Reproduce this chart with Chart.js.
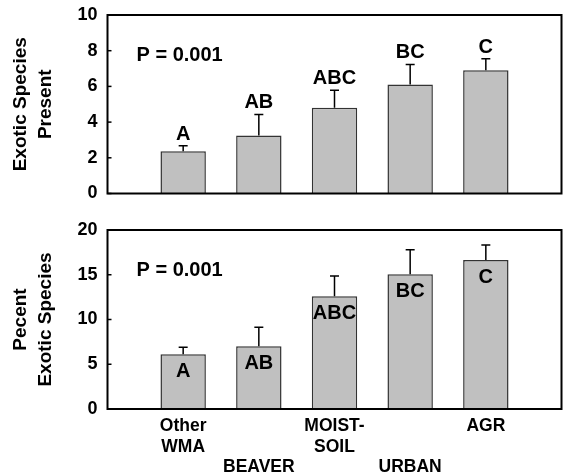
<!DOCTYPE html>
<html>
<head>
<meta charset="utf-8">
<script src="https://cdn.jsdelivr.net/npm/chart.js@4"></script>
<style>
  html, body { margin: 0; padding: 0; background: #fff; }
  body { width: 563px; height: 474px; position: relative; overflow: hidden; }
  canvas { position: absolute; left: 0; }
  #top { top: 0; }
  #bottom { top: 210px; }
</style>
</head>
<body>
<canvas id="top" width="563" height="210"></canvas>
<canvas id="bottom" width="563" height="264"></canvas>
<script>
// ---- data ----
const categoryLines = [['Other', 'WMA'], ['', '', 'BEAVER'], ['MOIST-', 'SOIL'], ['', '', 'URBAN'], ['AGR']];
const xPositions = [1, 2, 3, 4, 5];
const exoticPresent = [2.36, 3.25, 4.80, 6.11, 6.90];
const exoticPresentErr = [0.31, 1.18, 0.98, 1.12, 0.65];
const percentExotic = [6.11, 7.00, 12.59, 15.05, 16.65];
const percentExoticErr = [0.78, 2.13, 2.27, 2.75, 1.67];
const letters = ['A', 'AB', 'ABC', 'BC', 'C'];
const topTicks = [0, 2, 4, 6, 8, 10];
const bottomTicks = [0, 5, 10, 15, 20];
const pText = 'P = 0.001';

Chart.defaults.font.family = '"Liberation Sans", Arial, sans-serif';
Chart.defaults.font.weight = 'bold';
Chart.defaults.color = '#000';

function decorPlugin(values, errs, lettersPos) {
  return {
    id: 'decor',
    afterDatasetsDraw(chart) {
      const ctx = chart.ctx;
      const xs = chart.scales.x, ys = chart.scales.y;
      const ca = chart.chartArea;
      ctx.save();
      // error bars (upper only)
      ctx.strokeStyle = '#000';
      ctx.lineWidth = 1.5;
      values.forEach((v, i) => {
        const x = xs.getPixelForValue(xPositions[i]);
        const y0 = ys.getPixelForValue(v);
        const y1 = ys.getPixelForValue(v + errs[i]);
        ctx.beginPath();
        ctx.moveTo(x, y0);
        ctx.lineTo(x, y1);
        ctx.moveTo(x - 4.5, y1);
        ctx.lineTo(x + 4.5, y1);
        ctx.stroke();
      });
      // letters
      ctx.fillStyle = '#000';
      ctx.font = 'bold 20px "Liberation Sans", Arial, sans-serif';
      ctx.textAlign = 'center';
      ctx.textBaseline = 'alphabetic';
      values.forEach((v, i) => {
        const x = xs.getPixelForValue(xPositions[i]);
        let y;
        if (lettersPos === 'above') {
          y = ys.getPixelForValue(v + errs[i]) - 6;
        } else {
          y = ys.getPixelForValue(v) + 23;
        }
        ctx.fillText(letters[i], x, y);
      });
      // P value
      ctx.textAlign = 'left';
      ctx.fillText(pText, ca.left + 29, ca.top + 46);
      // frame
      ctx.lineWidth = 2;
      ctx.strokeStyle = '#000';
      ctx.strokeRect(ca.left, ca.top, ca.right - ca.left, ca.bottom - ca.top);
      // inward y ticks
      ctx.lineWidth = 1.5;
      ys.ticks.forEach(t => {
        const y = ys.getPixelForValue(t.value);
        ctx.beginPath();
        ctx.moveTo(ca.left, y);
        ctx.lineTo(ca.left + 4, y);
        ctx.stroke();
      });
      ctx.restore();
    }
  };
}

function makeChart(id, values, errs, yMax, ticksArr, title, lettersPos, showX, padTop, xHeight) {
  return new Chart(document.getElementById(id), {
    type: 'bar',
    data: {
      datasets: [{
        data: values.map((v, i) => ({ x: xPositions[i], y: v })),
        backgroundColor: '#c0c0c0',
        borderColor: '#333',
        borderWidth: 1.5,
        barPercentage: 0.6,
        categoryPercentage: 1.0
      }]
    },
    options: {
      responsive: false,
      animation: false,
      devicePixelRatio: 1,
      layout: { padding: { top: padTop, right: 1.5, left: 0, bottom: 0 } },
      plugins: { legend: { display: false }, tooltip: { enabled: false } },
      scales: {
        x: {
          type: 'linear',
          offset: false,
          min: 0, max: 6,
          grid: { display: false, drawTicks: false, offset: false },
          border: { display: false },
          afterBuildTicks(scale) { scale.ticks = [0,1,2,3,4,5,6].map(v => ({ value: v })); },
          ticks: {
            display: showX,
            padding: 7,
            autoSkip: false,
            maxRotation: 0,
            font: { size: 17.5, weight: 'bold', lineHeight: '20.5px' },
            callback(v) {
              const i = xPositions.indexOf(v);
              return i >= 0 ? categoryLines[i] : '';
            }
          },
          afterFit(scale) {
            scale.height = xHeight;
            scale.paddingLeft = 0; scale.paddingRight = 0;
          }
        },
        y: {
          min: 0, max: yMax,
          grid: { display: false, drawTicks: false },
          border: { display: false },
          afterBuildTicks(scale) { scale.ticks = ticksArr.map(v => ({ value: v })); },
          ticks: {
            padding: 10,
            font: { size: 18, weight: 'bold' }
          },
          title: {
            display: true,
            text: title,
            padding: { top: 9, bottom: 0 },
            font: { size: 19, weight: 'bold', lineHeight: '24.5px' }
          },
          afterFit(scale) {
            scale.width = 107.5;
            scale.paddingTop = 0; scale.paddingBottom = 0;
          }
        }
      }
    },
    plugins: [decorPlugin(values, errs, lettersPos)]
  });
}

makeChart('top', exoticPresent, exoticPresentErr, 10, topTicks, ['Exotic Species', 'Present'], 'above', false, 15, 16.5);
makeChart('bottom', percentExotic, percentExoticErr, 20, bottomTicks, ['Pecent', 'Exotic Species'], 'inside', true, 20, 65);
</script>
</body>
</html>
